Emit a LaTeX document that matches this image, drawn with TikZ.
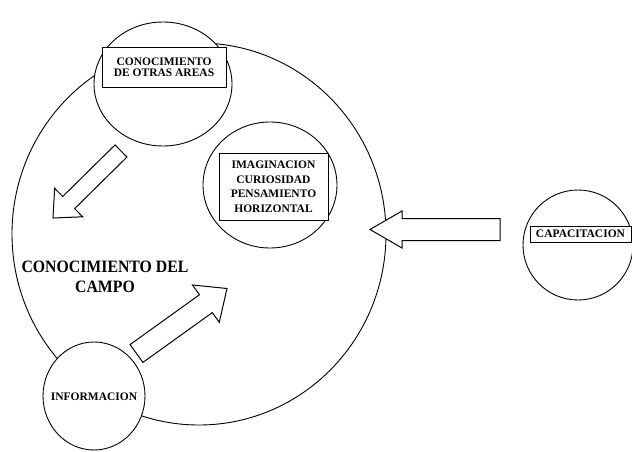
\documentclass[tikz,border=0pt]{standalone}
\usepackage{fontspec}
\setmainfont{Liberation Serif}
\usetikzlibrary{calc,shapes.geometric}

\tikzset{
  ring/.style={draw, ellipse, line width=0.9pt, fill=white, inner sep=0pt},
  tagbox/.style={draw, rectangle, line width=0.9pt, fill=white, inner sep=0pt,
    align=center, font=\bfseries\fontsize{11.5}{11}\selectfont},
  tagtext/.style={inner sep=0pt, align=center, font=\bfseries\fontsize{11.5}{11}\selectfont},
  fatarrow/.style={draw, line width=1pt, fill=white, line join=miter},
  titletext/.style={inner sep=0pt, align=center, font=\bfseries\fontsize{15.8}{20}\selectfont},
}

% block arrow: #1 tail, #2 tip, #3 half shaft width, #4 half head width, #5 head length
\newcommand\blockarrowpath[5]{%
  \coordinate (ba-base) at ($(#2)!#5!(#1)$);
  \draw[fatarrow]
    ($(#1)!#3!90:(#2)$) -- ($(ba-base)!#3!90:(#2)$) -- ($(ba-base)!#4!90:(#2)$)
    -- (#2)
    -- ($(ba-base)!#4!-90:(#2)$) -- ($(ba-base)!#3!-90:(#2)$) -- ($(#1)!#3!-90:(#2)$)
    -- cycle;
}

\begin{document}
\begin{tikzpicture}[x=1pt, y=-1pt]
  \useasboundingbox (0,0) rectangle (632,452);

  % main field
  \node[ring, minimum width=374pt, minimum height=382pt] (campo) at (199,234) {};

  % arrows inside the field
  \coordinate (a1tail) at (121,151);
  \coordinate (a1tip) at (53,218);
  \blockarrowpath{a1tail}{a1tip}{8.5pt}{20pt}{22pt}

  \coordinate (a2tail) at (136.5,353.5);
  \coordinate (a2tip) at (227,288.5);
  \blockarrowpath{a2tail}{a2tip}{11pt}{23pt}{26pt}

  % inner circle
  \node[ring, minimum width=134pt, minimum height=126pt] (imag) at (270,185) {};
  \node[tagbox, font=\bfseries\fontsize{11.5}{14.5}\selectfont,
        minimum width=109pt, minimum height=67pt] (imagbox) at (273.5,186.5)
        {IMAGINACION\\CURIOSIDAD\\PENSAMIENTO\\HORIZONTAL};

  % satellite circles
  \node[ring, minimum width=138pt, minimum height=124pt] (otras) at (163,84) {};
  \node[tagbox, minimum width=124pt, minimum height=40pt] (otrasbox) at (164,67.5)
        {CONOCIMIENTO\\DE OTRAS AREAS};

  \node[ring, minimum width=102pt, minimum height=108pt] (info) at (94,396) {};
  \node[tagtext] (infotext) at (94,397) {INFORMACION};

  \node[ring, minimum width=110pt, minimum height=110pt] (capac) at (578,245) {};
  \node[tagbox, minimum width=101pt, minimum height=16pt] (capacbox) at (580.5,234)
        {CAPACITACION};

  % arrow from the right circle into the field
  \coordinate (a3tail) at (500,229.5);
  \coordinate (a3tip) at (370,229.5);
  \blockarrowpath{a3tail}{a3tip}{11pt}{18.5pt}{32pt}

  % field title
  \node[titletext] (campotext) at (105,277)
    {\scalebox{1}[1.1]{CONOCIMIENTO DEL}\\\scalebox{1}[1.1]{CAMPO}};
\end{tikzpicture}
\end{document}
